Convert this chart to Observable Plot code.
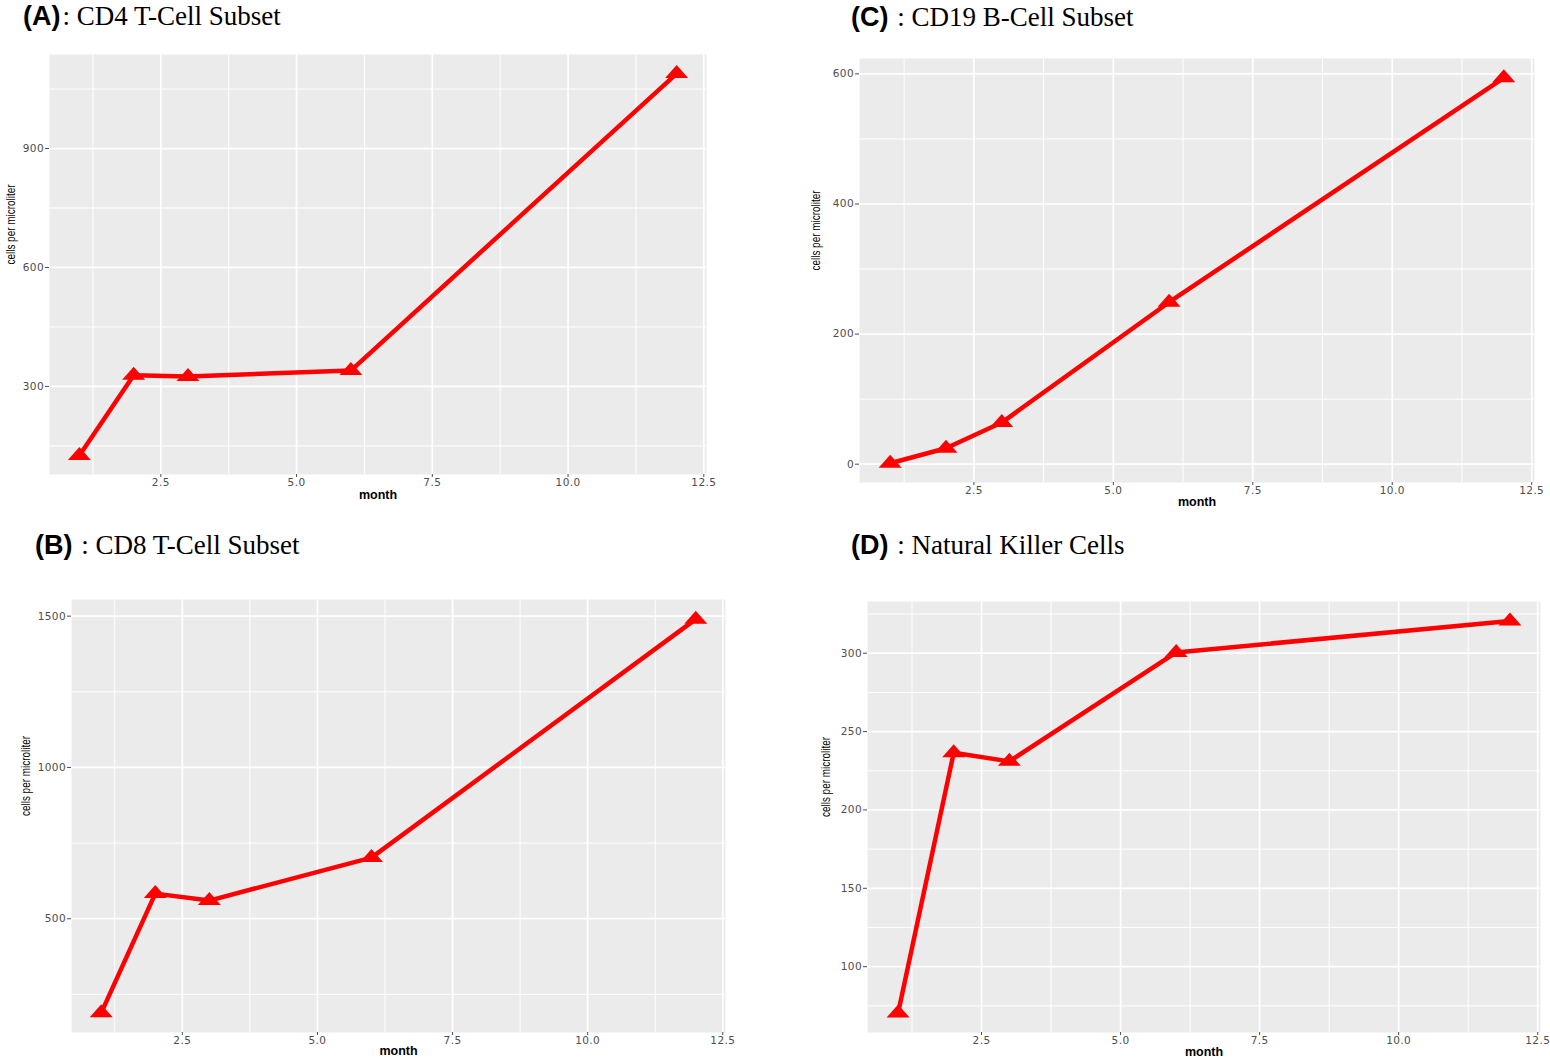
<!DOCTYPE html>
<html>
<head>
<meta charset="utf-8">
<script src="https://cdn.jsdelivr.net/npm/d3@7"></script>
<script src="https://cdn.jsdelivr.net/npm/@observablehq/plot@0.6"></script>
<style>
  html, body { margin: 0; padding: 0; background: #fff; }
  #page { position: relative; width: 1550px; height: 1057px; overflow: hidden; background: #fff; }
  .panel { position: absolute; }
  #titles { position: absolute; left: 0; top: 0; }
  svg g[aria-label$="tick label"] text { letter-spacing: 0.4px; }
</style>
</head>
<body>
<div id="page">
  <div class="panel" id="pA" style="left:0px; top:40px;"></div>
  <div class="panel" id="pC" style="left:800px; top:40px;"></div>
  <div class="panel" id="pB" style="left:0px; top:580px;"></div>
  <div class="panel" id="pD" style="left:800px; top:580px;"></div>
  <svg id="titles" width="1550" height="1057" style="pointer-events:none">
    <text x="23" y="24.5" font-size="27"><tspan font-family="Liberation Sans, Arial, sans-serif" font-weight="bold">(A)</tspan><tspan font-family="Liberation Serif, Times New Roman, serif" dx="2">: CD4 T-Cell Subset</tspan></text>
    <text x="851" y="26" font-size="27"><tspan font-family="Liberation Sans, Arial, sans-serif" font-weight="bold">(C)</tspan><tspan font-family="Liberation Serif, Times New Roman, serif" dx="2"> : CD19 B-Cell Subset</tspan></text>
    <text x="35" y="554" font-size="27"><tspan font-family="Liberation Sans, Arial, sans-serif" font-weight="bold">(B)</tspan><tspan font-family="Liberation Serif, Times New Roman, serif" dx="2"> : CD8 T-Cell Subset</tspan></text>
    <text x="851" y="554" font-size="27"><tspan font-family="Liberation Sans, Arial, sans-serif" font-weight="bold">(D)</tspan><tspan font-family="Liberation Serif, Times New Roman, serif" dx="2"> : Natural Killer Cells</tspan></text>
  </svg>
</div>
<script>
// ---- data ----
const months = [1, 2, 3, 6, 12];
const cd4 = [126, 328, 325, 340, 1089];
const cd8 = [189, 583, 560, 702, 1490];
const cd19 = [1.5, 24.5, 64, 249, 594];
const nk = [70.5, 236.5, 231, 300.5, 320.5];

// ---- ticks ----
const xTicks = [2.5, 5, 7.5, 10, 12.5];
const xMinorTicks = [1.25, 3.75, 6.25, 8.75, 11.25];
const cd4Ticks = [300, 600, 900];
const cd4Minor = [150, 450, 750, 1050];
const cd8Ticks = [500, 1000, 1500];
const cd8Minor = [250, 750, 1250];
const cd19Ticks = [0, 200, 400, 600];
const cd19Minor = [100, 300, 500];
const nkTicks = [100, 150, 200, 250, 300];
const nkMinor = [75, 125, 175, 225, 275, 325];

const yLabel = "cells per microliter";
const xLabel = "month";

// ggplot-like 5% expansion
function expand(values) {
  const [lo, hi] = d3.extent(values);
  const pad = (hi - lo) * 0.05;
  return [lo - pad, hi + pad];
}

// flattened filled triangle (ggplot shape 17 as it appears in the figure)
const flatTriangle = {
  draw(ctx) {
    ctx.moveTo(0, -8.5);
    ctx.lineTo(11.5, 4.5);
    ctx.lineTo(-11.5, 4.5);
    ctx.closePath();
  }
};

function panel(values, yMajor, yMinor, g) {
  const rows = months.map((m, i) => ({month: m, value: values[i]}));
  const svg = Plot.plot({
    width: g.width,
    height: g.height,
    marginTop: g.top,
    marginRight: g.right,
    marginBottom: g.bottom,
    marginLeft: g.left,
    x: {domain: expand(months)},
    y: {domain: expand(values)},
    style: {background: "transparent", overflow: "visible", fontFamily: "DejaVu Sans, sans-serif", fontSize: "10.5px"},
    marks: [
      Plot.frame({fill: "#EBEBEB", stroke: "none"}),
      Plot.gridX(xMinorTicks, {stroke: "#ffffff", strokeOpacity: 1, strokeWidth: 1}),
      Plot.gridY(yMinor, {stroke: "#ffffff", strokeOpacity: 1, strokeWidth: 1}),
      Plot.gridX(xTicks, {stroke: "#ffffff", strokeOpacity: 1, strokeWidth: 1.7}),
      Plot.gridY(yMajor, {stroke: "#ffffff", strokeOpacity: 1, strokeWidth: 1.7}),
      Plot.axisX(xTicks, {tickFormat: d => d.toFixed(1), tickSize: 3, tickPadding: 1.5, color: "#4d4d4d", label: null}),
      Plot.axisY(yMajor, {tickFormat: d => String(d), tickSize: 4, tickPadding: 1.5, color: "#4d4d4d", label: null}),
      Plot.line(rows, {x: "month", y: "value", stroke: "#FF0000", strokeWidth: 4.5}),
      Plot.dot(rows, {x: "month", y: "value", symbol: flatTriangle, fill: "#FF0000", stroke: "none"}),
      Plot.text([xLabel], {text: d => d, frameAnchor: "bottom", dy: g.monthDy, lineAnchor: "middle", fontSize: 12.5, fontWeight: "bold", fill: "#000", fontFamily: "Liberation Sans, Arial, sans-serif"}),
      Plot.text([yLabel], {text: d => d, frameAnchor: "left", dx: g.ylabDx, rotate: -90, lineAnchor: "middle", fontSize: 12.5, fill: "#000", fontFamily: "Liberation Sans, Arial, sans-serif"})
    ]
  });
  // the reference uses a condensed face for the y label
  svg.querySelectorAll("text").forEach(t => {
    if (t.textContent === yLabel) {
      t.setAttribute("textLength", 80);
      t.setAttribute("lengthAdjust", "spacingAndGlyphs");
    }
  });
  return svg;
}

document.getElementById("pA").append(panel(cd4, cd4Ticks, cd4Minor,
  {width: 725, height: 480, top: 14, right: 19, bottom: 46, left: 49, monthDy: 20, ylabDx: -39}));
document.getElementById("pC").append(panel(cd19, cd19Ticks, cd19Minor,
  {width: 750, height: 480, top: 18, right: 16, bottom: 38, left: 59, monthDy: 19, ylabDx: -44}));
document.getElementById("pB").append(panel(cd8, cd8Ticks, cd8Minor,
  {width: 745, height: 477, top: 19, right: 20, bottom: 25, left: 71, monthDy: 18, ylabDx: -46}));
document.getElementById("pD").append(panel(nk, nkTicks, nkMinor,
  {width: 750, height: 477, top: 21, right: 10, bottom: 25, left: 67, monthDy: 19, ylabDx: -42}));
</script>
</body>
</html>
